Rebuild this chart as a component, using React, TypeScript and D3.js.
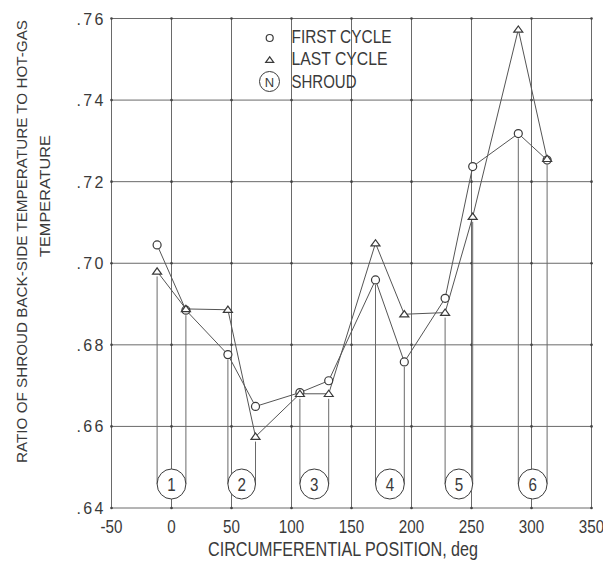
import React from "react";
import * as d3 from "d3";

const positions = [-12, 12, 47, 70, 107, 131, 170, 194, 228, 251, 289, 313];
const firstCycle = [0.7045, 0.6885, 0.6776, 0.6649, 0.6683, 0.6712, 0.6959, 0.6758, 0.6914, 0.7237, 0.7318, 0.7253];
const lastCycle = [0.698, 0.6888, 0.6886, 0.6575, 0.668, 0.668, 0.7049, 0.6875, 0.6879, 0.7114, 0.7573, 0.7256];
const shroudLabels = ["1", "2", "3", "4", "5", "6"];
const xTicks = [-50, 0, 50, 100, 150, 200, 250, 300, 350];
const yTicks = [0.64, 0.66, 0.68, 0.7, 0.72, 0.74, 0.76];
const legendLabels = ["FIRST CYCLE", "LAST CYCLE", "SHROUD"];

const W = 603;
const H = 568;
const FONT = "'Liberation Sans Narrow', 'Liberation Sans', Arial, sans-serif";
const INK = "#3a3a3a";
const GRID = "#6a6a6a";

export default function App() {
  const x = d3.scaleLinear().domain([-50, 350]).range([111.5, 591.5]);
  const y = d3.scaleLinear().domain([0.64, 0.76]).range([508, 18.5]);
  const line = d3
    .line<[number, number]>()
    .x((d) => x(d[0]))
    .y((d) => y(d[1]));
  const firstPts: [number, number][] = positions.map((p, i) => [p, firstCycle[i]]);
  const lastPts: [number, number][] = positions.map((p, i) => [p, lastCycle[i]]);
  const circY = 484;
  const tri = (cx: number, cy: number, s = 4.5) =>
    `M${cx - s},${cy + s * 0.6}L${cx},${cy - s * 0.8}L${cx + s},${cy + s * 0.6}Z`;

  return (
    <svg
      width={W}
      height={H}
      viewBox={`0 0 ${W} ${H}`}
      style={{ position: "absolute", left: 0, top: 0, background: "#fff" }}
    >
      <rect x={0} y={0} width={W} height={H} fill="#fff" />
      {/* grid */}
      <g stroke={GRID} strokeWidth={1} fill="none">
        {xTicks.map((t) => (
          <line key={"vx" + t} x1={x(t)} x2={x(t)} y1={y(0.76)} y2={y(0.64)} />
        ))}
        {yTicks.map((t) => (
          <line key={"hy" + t} x1={x(-50)} x2={x(350)} y1={y(t)} y2={y(t)} />
        ))}
      </g>
      <g fill="#444">
        {xTicks.map((tx) =>
          yTicks.map((ty) => <circle key={tx + "_" + ty} cx={x(tx)} cy={y(ty)} r={1.3} />)
        )}
      </g>
      {/* drop lines to shroud circles */}
      <g stroke={GRID} strokeWidth={1}>
        {positions.map((p, i) => (
          <line
            key={"dl" + i}
            x1={x(p)}
            x2={x(p)}
            y1={y(Math.min(firstCycle[i], lastCycle[i])) + 5}
            y2={circY}
          />
        ))}
      </g>
      {/* shroud circles */}
      {shroudLabels.map((lab, k) => {
        const a = x(positions[2 * k]);
        const b = x(positions[2 * k + 1]);
        const cx = (a + b) / 2;
        const rx = (b - a) / 2;
        return (
          <g key={"sh" + k}>
            <ellipse cx={cx} cy={circY} rx={rx} ry={15} fill="#fff" stroke={INK} strokeWidth={1} />
            <text
              transform={`translate(${cx},${circY + 7}) scale(0.8,1)`}
              textAnchor="middle"
              fontFamily={FONT}
              fontSize={19}
              fill={INK}
            >
              {lab}
            </text>
          </g>
        );
      })}
      {/* series lines */}
      <path d={line(firstPts) || ""} fill="none" stroke="#555" strokeWidth={1} />
      <path d={line(lastPts) || ""} fill="none" stroke="#555" strokeWidth={1} />
      {/* markers */}
      {firstPts.map((d, i) => (
        <circle key={"fc" + i} cx={x(d[0])} cy={y(d[1])} r={4} fill="#fff" stroke={INK} strokeWidth={1.2} />
      ))}
      {lastPts.map((d, i) => (
        <path key={"lc" + i} d={tri(x(d[0]), y(d[1]))} fill="#fff" stroke={INK} strokeWidth={1.2} />
      ))}
      {/* y tick labels */}
      {yTicks.map((t) => (
        <text
          key={"yl" + t}
          x={x(-50) - 8}
          y={y(t) + 6}
          textAnchor="end"
          fontFamily={FONT}
          fontSize={16}
          fill={INK}
          textLength={27}
          lengthAdjust="spacing"
        >
          {d3.format(".2f")(t).replace(/^0/, "")}
        </text>
      ))}
      {/* x tick labels */}
      {xTicks.map((t) => (
        <text
          key={"xl" + t}
          transform={`translate(${x(t)},533) scale(0.8,1)`}
          textAnchor="middle"
          fontFamily={FONT}
          fontSize={19}
          fill={INK}
        >
          {String(t)}
        </text>
      ))}
      {/* axis titles */}
      <text
        x={208}
        y={556}
        fontFamily={FONT}
        fontSize={20}
        fill={INK}
        textLength={270}
        lengthAdjust="spacingAndGlyphs"
      >
        CIRCUMFERENTIAL POSITION, deg
      </text>
      <text
        transform="translate(27,463) rotate(-90)"
        fontFamily={FONT}
        fontSize={15}
        fill={INK}
        textLength={443}
        lengthAdjust="spacingAndGlyphs"
      >
        RATIO OF SHROUD BACK-SIDE TEMPERATURE TO HOT-GAS
      </text>
      <text
        transform="translate(50,257) rotate(-90)"
        fontFamily={FONT}
        fontSize={15}
        fill={INK}
        textLength={122}
        lengthAdjust="spacingAndGlyphs"
      >
        TEMPERATURE
      </text>
      {/* legend */}
      <circle cx={269.7} cy={38} r={3.5} fill="#fff" stroke={INK} strokeWidth={1.2} />
      <path d={tri(269.7, 60, 4)} fill="#fff" stroke={INK} strokeWidth={1.2} />
      <circle cx={269.5} cy={81.5} r={10} fill="#fff" stroke={INK} strokeWidth={1} />
      <text x={269.5} y={86.5} textAnchor="middle" fontFamily={FONT} fontSize={13} fill={INK}>
        N
      </text>
      {legendLabels.map((lab, i) => (
        <text
          key={lab}
          x={291.5}
          y={[43, 65, 88][i]}
          fontFamily={FONT}
          fontSize={18}
          fill={INK}
          textLength={[100, 96, 65][i]}
          lengthAdjust="spacingAndGlyphs"
        >
          {lab}
        </text>
      ))}
    </svg>
  );
}
